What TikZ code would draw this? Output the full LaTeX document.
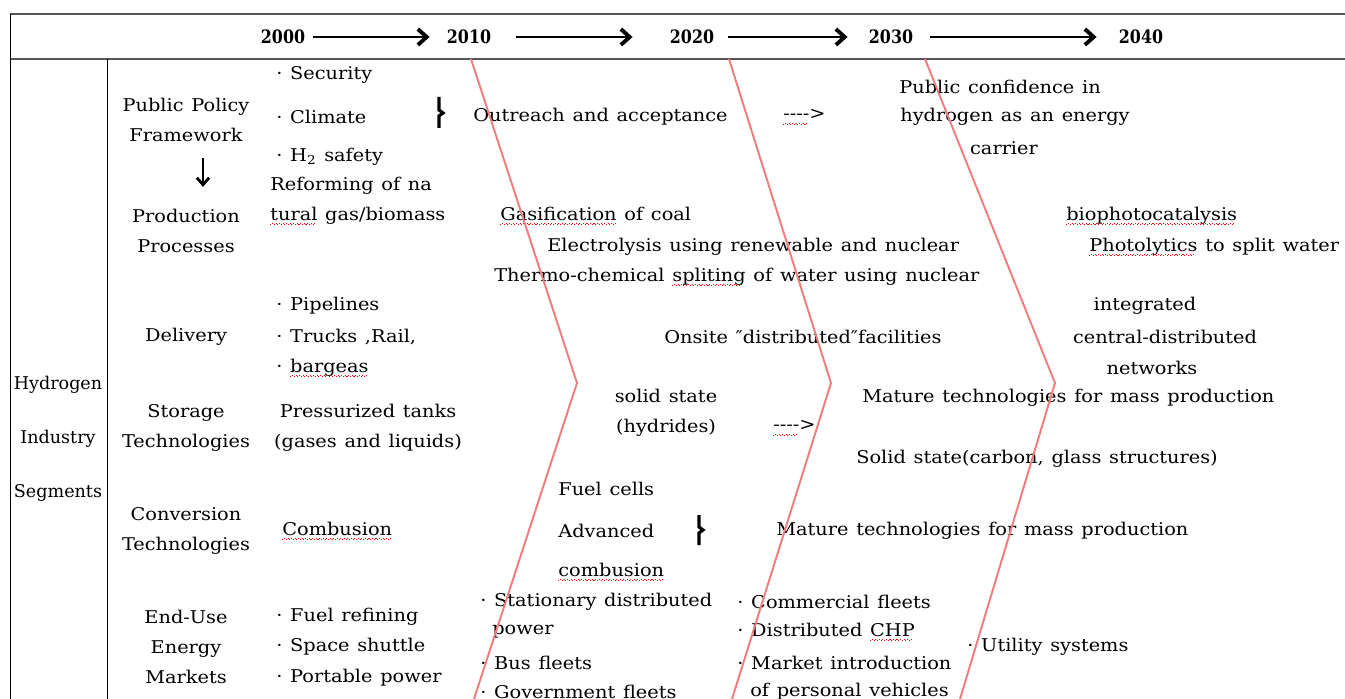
\documentclass[tikz,border=0pt]{standalone}
\usepackage{fontspec}
\setmainfont{DejaVu Serif}[FakeStretch=1.1]
\newfontfamily\yearfont{DejaVu Serif}[FakeStretch=0.86]
\newfontfamily\narrowfont{DejaVu Serif}
\usetikzlibrary{arrows.meta, calc}

\definecolor{eraline}{RGB}{240,125,125}
\definecolor{rulegray}{RGB}{85,85,85}

% red wavy spell-check mark under a word
\newsavebox\spellbox
\newcommand\spellmark[1]{\sbox\spellbox{#1}\rlap{\usebox\spellbox}\textcolor{red}{\raisebox{-2.6pt}{\hbox to\wd\spellbox{\leaders\hbox to 2pt{\rule{0.6pt}{0.35pt}\hskip0.4pt\raisebox{0.5pt}{\rule{0.6pt}{0.35pt}}\hss}\hfill}}}}
\newcommand\dashes{\spellmark{-{}-{}-{}-}>}
\newcommand\wide{\spaceskip=4.4pt plus 1pt\relax}

\begin{document}
\begin{tikzpicture}[x=0.02cm, y=-0.02cm,
	txt/.style={font=\fontsize{10}{17.07}\selectfont\wide, inner sep=0pt, align=center},
	txtl/.style={txt, anchor=west, align=left},
	year/.style={font=\fontsize{10.5}{12}\selectfont\yearfont\bfseries, inner sep=0pt},
	yeararrow/.style={-{Straight Barb[length=5pt,width=9pt,line width=2.2pt]}, line width=1.3pt},
	downarrow/.style={-{Straight Barb[length=4pt,width=7pt,line width=1.6pt]}, line width=1pt},
	era/.style={draw=eraline, line width=1.1pt},
	brace/.style={line width=1.8pt}]
	
	\useasboundingbox (0,0) rectangle (1345,699);
	
	% ---------- Frame ----------
	\draw[rulegray, line width=1.2pt] (10,14) -- (1345,14);
	\draw[rulegray, line width=1.2pt] (10,59) -- (1345,59);
	\draw (10,14) -- (10,699);
	\draw (107,59) -- (107,699);
	
	% ---------- Timeline ----------
	\foreach \yr/\x in {2000/283, 2010/469, 2020/692, 2030/891, 2040/1141} {
		\node[year] (y\yr) at (\x,37) {\yr};
	}
	\foreach \a/\b/\ga/\gb in {2000/2010/8/17, 2010/2020/25/37, 2020/2030/14/21, 2030/2040/17/22} {
		\draw[yeararrow] ($(y\a.east)+(\ga,0)$) -- ($(y\b.west)+(-\gb,0)$);
	}
	
	% ---------- Segments ----------
	\node[txt, font=\fontsize{10}{30.7}\selectfont\narrowfont] (segments) at (58,439) {Hydrogen\\Industry\\Segments};
	\node[txt] (policy) at (186,120) {Public Policy\\Framework};
	\node[txt] (production) at (186,231) {Production\\Processes};
	\node[txt] (delivery) at (186,337) {Delivery};
	\node[txt] (storage) at (186,428) {Storage\\Technologies};
	\node[txt] (conversion) at (186,531) {Conversion\\Technologies};
	\node[txt] (enduse) at (186,647) {End-Use\\Energy\\Markets};
	\draw[downarrow] ($(policy.south)+(17,16)$) -- ($(production.north)+(17,-22)$);
	
	% ---------- 2000 ----------
	\foreach \n/\y/\t in {security/75/Security, climate/117/Climate, h2safety/157/H\textsubscript{2} safety} {
		\node[txtl] (\n) at (276,\y) {· \t};
	}
	\draw[brace] (439,97) -- (439,110) -- (443,113) -- (439,116) -- (439,128);
	\node[txtl] (reforming) at (270,201) {Reforming of na\\\spellmark{tural} gas/biomass};
	\foreach \n/\y/\t in {pipelines/306/Pipelines, trucks/337/{Trucks ,Rail,}, bargeas/368/\spellmark{bargeas}} {
		\node[txtl] (\n) at (276,\y) {· \t};
	}
	\node[txt] (tanks) at (368,428) {Pressurized tanks\\(gases and liquids)};
	\node[txtl] (combustion) at (282,531) {\spellmark{Combusion}};
	\foreach \n/\y/\t in {refining/617/Fuel refining, shuttle/647/Space shuttle, portable/678/Portable power} {
		\node[txtl] (\n) at (276,\y) {· \t};
	}
	
	% ---------- 2010 - 2030 ----------
	\node[txtl] (outreach) at (473,117) {Outreach and acceptance};
	\node[txtl] (dashA) at (783,117) {\dashes};
	\node[txtl] (gasification) at (500,216) {\spellmark{Gasification} of coal};
	\node[txtl] (electrolysis) at (547,247) {Electrolysis using renewable and nuclear};
	\node[txtl] (thermo) at (494,277) {Thermo-chemical \spellmark{spliting} of water using nuclear};
	\node[txtl] (onsite) at (664,337) {Onsite ″distributed″facilities};
	\node[txt] (hydrides) at (666,413) {solid state\\(hydrides)};
	\node[txtl] (dashB) at (773,428) {\dashes};
	\node[txtl] (solidcarbon) at (856,459) {Solid state(carbon, glass structures)};
	\foreach \n/\y/\t in {fuelcells/489/Fuel cells, advanced/531/Advanced, combusion/572/\spellmark{combusion}} {
		\node[txtl] (\n) at (558,\y) {\t};
	}
	\draw[brace] (699,515) -- (699,527) -- (703,530) -- (699,533) -- (699,545);
	\node[txtl] (matureB) at (776,531) {Mature technologies for mass production};
	\foreach \n/\y/\t in {stationary/602/Stationary distributed, busfleets/663/Bus fleets, government/692/Government fleets} {
		\node[txtl] (\n) at (480,\y) {· \t};
	}
	\node[txtl] (power) at (492,632) {power};
	\foreach \n/\y/\t in {commercial/602/Commercial fleets, chp/632/Distributed \spellmark{CHP}, market/663/Market introduction} {
		\node[txtl] (\n) at (737,\y) {· \t};
	}
	\node[txtl] (personal) at (750,692) {of personal vehicles};
	
	% ---------- 2030 - 2040 ----------
	\node[txtl] (confidence) at (899,87) {Public confidence in};
	\node[txtl] (energycarrier) at (900,117) {hydrogen as an energy};
	\node[txt] (carrier) at (1004,148) {carrier};
	\node[txtl] (biophoto) at (1066,216) {\spellmark{biophotocatalysis}};
	\node[txtl] (photolytics) at (1089,247) {\spellmark{Photolytics} to split water};
	\node[txt] (integrated) at (1145,306) {integrated};
	\node[txt] (central) at (1165,337) {central-distributed};
	\node[txt] (networks) at (1152,368) {networks};
	\node[txtl] (matureA) at (862,398) {Mature technologies for mass production};
	\node[txtl] (utility) at (967,647) {· Utility systems};
	
	% ---------- Era boundaries ----------
	\foreach \t/\m/\b in {471/577/474, 729/831/732, 925/1055/960} {
		\draw[era] (\t,59) -- (\m,383) -- (\b,699);
	}
	
\end{tikzpicture}
\end{document}
